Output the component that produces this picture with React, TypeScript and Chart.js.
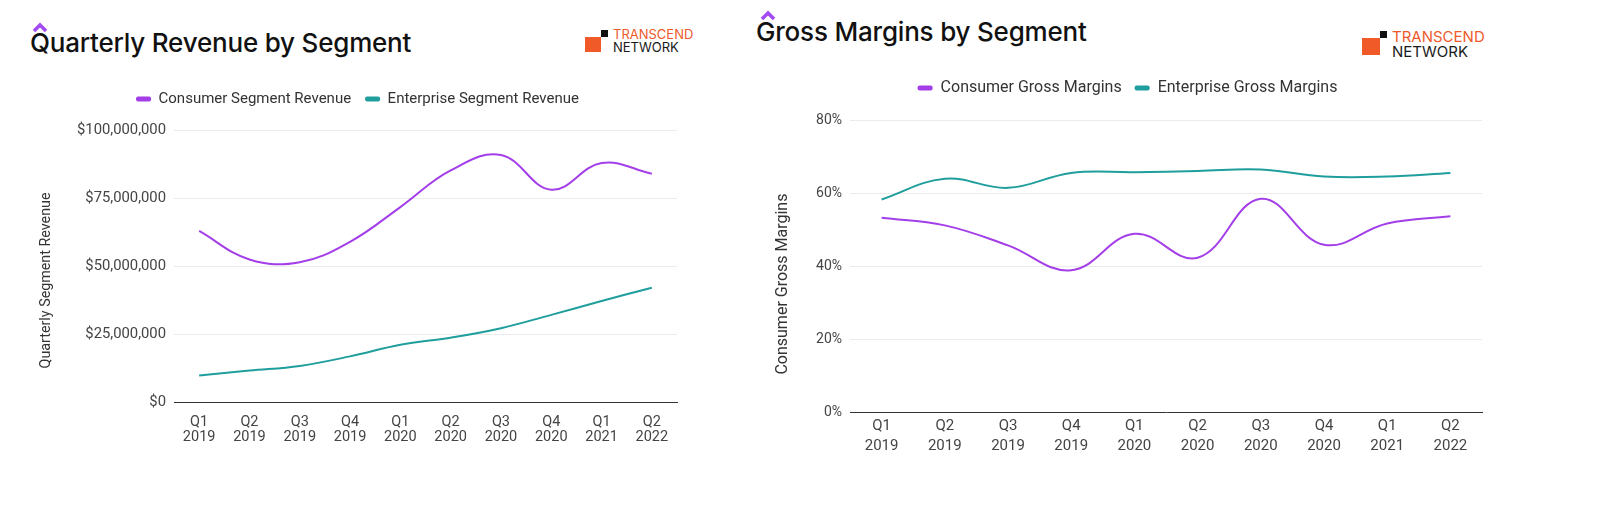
import React, { useEffect, useRef } from "react";
import { Chart, registerables } from "chart.js";

Chart.register(...registerables);

// ---------- data ----------
const quarterLabels: string[][] = [
  ["Q1", "2019"], ["Q2", "2019"], ["Q3", "2019"], ["Q4", "2019"],
  ["Q1", "2020"], ["Q2", "2020"], ["Q3", "2020"], ["Q4", "2020"],
  ["Q1", "2021"], ["Q2", "2022"],
];
const consumerRevenue = [63000000, 52500000, 51500000, 59000000, 71800000, 85300000, 91000000, 78200000, 88000000, 84100000];
const enterpriseRevenue = [9800000, 11600000, 13300000, 16800000, 21100000, 23700000, 27200000, 32100000, 37200000, 42100000];
const consumerMargins = [53.3, 51.2, 45.7, 38.9, 48.9, 42.3, 58.5, 45.9, 51.7, 53.7];
const enterpriseMargins = [58.3, 64.0, 61.5, 65.6, 65.8, 66.1, 66.5, 64.6, 64.6, 65.6];
const revenueTicks = [0, 25000000, 50000000, 75000000, 100000000];
const marginTicks = [0, 20, 40, 60, 80];

const PURPLE = "#a33ee8";
const TEAL = "#1f9e9d";
const FONT = "Roboto";

type Layout = {
  pad: { top: number; left: number; right: number; bottom: number };
  legendSize: number;
  ySize: number;
  xSize: number;
  titleSize: number;
  legendPad: number;
  gap: number;
  yWidth: number;
  xHeight: number;
  yTickPad: number;
  xTickPad: number;
  xLineHeight: number;
  titleSpaces: number;
};

function makeConfig(
  names: string[],
  series: number[][],
  ticks: number[],
  fmt: (v: number) => string,
  yTitle: string,
  L: Layout
): any {
  const colors = [PURPLE, TEAL];
  return {
    type: "line",
    data: {
      labels: quarterLabels,
      datasets: series.map((d, i) => ({
        label: names[i],
        data: d,
        borderColor: colors[i],
        backgroundColor: colors[i],
        borderWidth: 2,
        pointRadius: 0,
        tension: 0.4,
        fill: false,
      })),
    },
    options: {
      responsive: true,
      maintainAspectRatio: false,
      animation: false,
      layout: { padding: L.pad },
      plugins: {
        tooltip: { enabled: false },
        legend: {
          display: true,
          position: "top",
          labels: {
            font: { family: FONT, size: L.legendSize },
            color: "#333",
            boxWidth: 15,
            boxHeight: 5,
            padding: L.legendPad,
            useBorderRadius: true,
            borderRadius: 2,
            generateLabels: (chart: any) =>
              Chart.defaults.plugins.legend.labels
                .generateLabels(chart)
                .map((l: any) => ({ ...l, lineWidth: 0 })),
          },
        },
      },
      scales: {
        x: {
          type: "category",
          offset: true,
          grid: { display: false, drawTicks: false },
          border: { display: true, color: "#333", width: 1 },
          ticks: {
            color: "#444",
            font: { family: FONT, size: L.xSize, lineHeight: L.xLineHeight },
            padding: L.xTickPad,
            maxRotation: 0,
            autoSkip: false,
          },
          afterFit: (s: any) => {
            s.height = L.xHeight;
          },
        },
        gap: {
          type: "category",
          position: "top",
          grid: { display: false, drawTicks: false },
          border: { display: false },
          ticks: { display: false },
          afterFit: (s: any) => {
            s.height = L.gap;
          },
        },
        y: {
          type: "linear",
          min: ticks[0],
          max: ticks[ticks.length - 1],
          afterBuildTicks: (s: any) => {
            s.ticks = ticks.map((v) => ({ value: v }));
          },
          grid: {
            drawTicks: false,
            color: (c: any) => (c.tick && c.tick.value === 0 ? "rgba(0,0,0,0)" : "#ebebeb"),
          },
          border: { display: false },
          ticks: {
            color: "#444",
            font: { family: FONT, size: L.ySize },
            padding: L.yTickPad,
            callback: (v: any) => fmt(Number(v)),
          },
          title: {
            display: true,
            text: yTitle + " ".repeat(L.titleSpaces),
            color: "#333",
            font: { family: FONT, size: L.titleSize },
            padding: { top: 0, bottom: 0 },
          },
          afterFit: (s: any) => {
            s.width = L.yWidth;
          },
        },
      },
    },
  };
}

function ChartBox({ config, box }: { config: any; box: React.CSSProperties }) {
  const ref = useRef<HTMLCanvasElement | null>(null);
  useEffect(() => {
    if (!ref.current) return;
    const chart = new Chart(ref.current, config);
    return () => chart.destroy();
  }, []);
  return (
    <div style={{ position: "absolute", ...box }}>
      <canvas ref={ref} />
    </div>
  );
}

function Caret({ x, y }: { x: number; y: number }) {
  return (
    <svg
      style={{ position: "absolute", left: x, top: y }}
      width={16}
      height={11}
      viewBox="0 0 16 11"
    >
      <polyline points="2,9 8,3 14,9" fill="none" stroke="#a24bf2" strokeWidth={3.6} />
    </svg>
  );
}

function Logo({ x, y, size, sq, bsq }: { x: number; y: number; size: number; sq: number; bsq: number }) {
  return (
    <div style={{ position: "absolute", left: x, top: y }}>
      <div style={{ position: "absolute", left: 0, top: bsq, width: sq, height: sq - 1, background: "#f05a28" }} />
      <div style={{ position: "absolute", left: sq, top: 0, width: bsq, height: bsq, background: "#111" }} />
      <div
        style={{
          position: "absolute",
          left: sq + bsq + 5,
          top: -2,
          fontFamily: "Inter",
          fontSize: size,
          lineHeight: `${size}px`,
          whiteSpace: "nowrap",
        }}
      >
        <div style={{ color: "#ee5a2c" }}>TRANSCEND</div>
        <div style={{ color: "#1a1a1a" }}>NETWORK</div>
      </div>
    </div>
  );
}

const leftLayout: Layout = {
  pad: { top: 17.5, left: 38, right: 43, bottom: 0 },
  legendSize: 15,
  ySize: 14.8,
  xSize: 14.5,
  titleSize: 14.3,
  legendPad: 14,
  gap: 14,
  yWidth: 136,
  xHeight: 58,
  yTickPad: 8,
  xTickPad: 12.5,
  xLineHeight: 1.06,
  titleSpaces: 8,
};

const rightLayout: Layout = {
  pad: { top: 17, left: 33, right: 18, bottom: 0 },
  legendSize: 16,
  ySize: 14,
  xSize: 15,
  titleSize: 16,
  legendPad: 13,
  gap: 14.4,
  yWidth: 77,
  xHeight: 48,
  yTickPad: 8,
  xTickPad: 4,
  xLineHeight: 1.33,
  titleSpaces: 9,
};

const revenueConfig = makeConfig(
  ["Consumer Segment Revenue", "Enterprise Segment Revenue"],
  [consumerRevenue, enterpriseRevenue],
  revenueTicks,
  (v) => "$" + v.toLocaleString("en-US"),
  "Quarterly Segment Revenue",
  leftLayout
);

const marginConfig = makeConfig(
  ["Consumer Gross Margins", "Enterprise Gross Margins"],
  [consumerMargins, enterpriseMargins],
  marginTicks,
  (v) => Math.round(v) + "%",
  "Consumer Gross Margins",
  rightLayout
);

const titleStyle: React.CSSProperties = {
  position: "absolute",
  fontFamily: "Inter",
  fontWeight: 500,
  fontSize: 26,
  lineHeight: "26px",
  color: "#111",
  whiteSpace: "nowrap",
  letterSpacing: "-0.2px",
};

export default function App() {
  return (
    <div
      style={{
        position: "absolute",
        left: 0,
        top: 0,
        width: 1600,
        height: 505,
        background: "#fff",
        overflow: "hidden",
      }}
    >
      <Caret x={32} y={22} />
      <div style={{ ...titleStyle, left: 30, top: 30 }}>Quarterly Revenue by Segment</div>
      <Logo x={585} y={30} size={13} sq={16} bsq={7} />
      <ChartBox config={revenueConfig} box={{ left: 0, top: 60, width: 720, height: 400 }} />

      <Caret x={760} y={9.5} />
      <div style={{ ...titleStyle, left: 756, top: 18.5 }}>Gross Margins by Segment</div>
      <Logo x={1362} y={31} size={15} sq={18} bsq={7} />
      <ChartBox config={marginConfig} box={{ left: 740, top: 50, width: 760, height: 410 }} />
    </div>
  );
}
